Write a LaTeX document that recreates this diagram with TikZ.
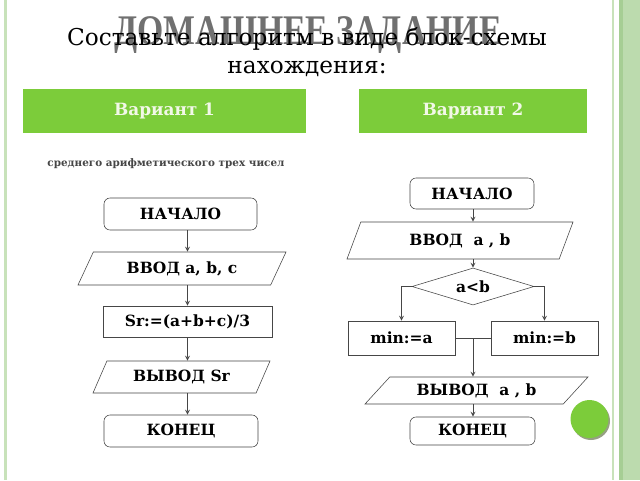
\documentclass[tikz,border=0pt]{standalone}
\usepackage{fontspec}
\setmainfont{DejaVu Serif}
\newfontfamily\titlefont[FakeStretch=0.8]{Liberation Serif}
\usetikzlibrary{shapes.geometric}
\definecolor{hdrgreen}{RGB}{124,204,58}
\definecolor{hdrtext}{RGB}{242,248,232}
\definecolor{edgegreen}{RGB}{200,226,186}
\definecolor{stripgreen}{RGB}{188,219,174}
\definecolor{stripdark}{RGB}{166,206,148}
\definecolor{titlegray}{RGB}{112,112,112}
\definecolor{linegray}{RGB}{70,70,70}
\definecolor{dotshadow}{RGB}{150,160,130}

\begin{document}
\begin{tikzpicture}[x=0.25mm, y=-0.25mm, >=stealth,
    every node/.style={font=\fontsize{11}{13}\selectfont\bfseries},
    termbox/.style={draw=linegray, rounded corners=1.5mm, inner sep=0pt},
    procbox/.style={draw=linegray, inner sep=0pt},
    iobox/.style={draw=linegray, trapezium, trapezium stretches body, inner sep=0pt},
    condbox/.style={draw=linegray, diamond, aspect=3, inner sep=1pt},
    hdrbox/.style={fill=hdrgreen, text=hdrtext, minimum height=11mm, inner sep=0pt,
                   font=\fontsize{12}{14}\selectfont\bfseries},
    flow/.style={->, draw=linegray, line width=0.6pt}]
    \useasboundingbox[fill=white] (0,0) rectangle (640,480);

    \draw[edgegreen, line width=0.75mm] (5,0) -- (5,480);
    \draw[edgegreen, line width=0.3mm] (613,0) -- (613,480);
    \fill[stripgreen] (619,0) rectangle (640,480);
    \draw[stripdark, line width=0.9mm] (621,0) -- (621,480);

    \node[text=titlegray, font=\fontsize{30}{33}\selectfont\titlefont\bfseries] (hw) at (308,35) {ДОМАШНЕЕ ЗАДАНИЕ};
    \node[align=center, font=\fontsize{16.5}{20}\selectfont] (task) at (307,52)
        {Составьте алгоритм в виде блок-схемы\\нахождения:};

    \node[hdrbox, minimum width=70.75mm] (var1) at (164.5,111) {Вариант 1};
    \node[hdrbox, minimum width=57mm] (var2) at (473,111) {Вариант 2};
    \node[text=linegray, font=\fontsize{7.4}{9}\selectfont\bfseries] (avg) at (166,164)
        {среднего арифметического трех чисел};

    \node[termbox, minimum width=38.25mm, minimum height=8mm] (start1) at (180.5,214) {НАЧАЛО};
    \node[iobox, trapezium left angle=43, trapezium right angle=137,
          minimum width=52mm, minimum height=8.25mm] (in1) at (182,268.5) {ВВОД a, b, c};
    \node[procbox, minimum width=42.25mm, minimum height=7.75mm] (sr) at (187.5,321.5) {Sr:=(a+b+c)/3};
    \node[iobox, trapezium left angle=45, trapezium right angle=135,
          minimum width=44.25mm, minimum height=8mm] (out1) at (181.5,377) {ВЫВОД Sr};
    \node[termbox, minimum width=38.5mm, minimum height=8mm] (end1) at (181,431) {КОНЕЦ};

    \draw[flow] (start1.south -| sr) -- (in1.north -| sr);
    \draw[flow] (in1.south -| sr) -- (sr.north);
    \draw[flow] (sr.south) -- (out1.north -| sr);
    \draw[flow] (out1.south -| sr) -- (end1.north -| sr);

    \node[termbox, minimum width=31mm, minimum height=7.75mm] (start2) at (472,193.5) {НАЧАЛО};
    \node[iobox, trapezium left angle=46, trapezium right angle=134,
          minimum width=56.5mm, minimum height=9.25mm] (in2) at (460,240.5) {ВВОД~~a , b};
    \node[condbox, minimum width=30.5mm, minimum height=9.25mm] (cmp) at (473,286.5) {a<b};
    \node[procbox, minimum width=26.75mm, minimum height=8.5mm] (mina) at (401.5,338) {min:=a};
    \node[procbox, minimum width=26.75mm, minimum height=8.5mm] (minb) at (544.5,338) {min:=b};
    \node[iobox, trapezium left angle=30, trapezium right angle=150,
          minimum width=55.75mm, minimum height=6.75mm] (out2) at (476.5,390.5) {ВЫВОД~~a , b};
    \node[termbox, minimum width=31.25mm, minimum height=7mm] (end2) at (472.5,431) {КОНЕЦ};
    \coordinate (join) at (mina.east -| cmp);

    \draw[flow] (start2.south -| cmp) -- (in2.north -| cmp);
    \draw[flow] (in2.south -| cmp) -- (cmp.north);
    \draw[flow] (cmp.west) -| (mina.north);
    \draw[flow] (cmp.east) -| (minb.north);
    \draw[draw=linegray, line width=0.6pt] (mina.east) -- (minb.west);
    \draw[flow] (join) -- (out2.north -| cmp);
    \draw[flow] (out2.south -| cmp) -- (end2.north -| cmp);

    \fill[dotshadow] (591,421) circle (4.75mm);
    \fill[hdrgreen] (589.5,419) circle (4.75mm);
\end{tikzpicture}
\end{document}
